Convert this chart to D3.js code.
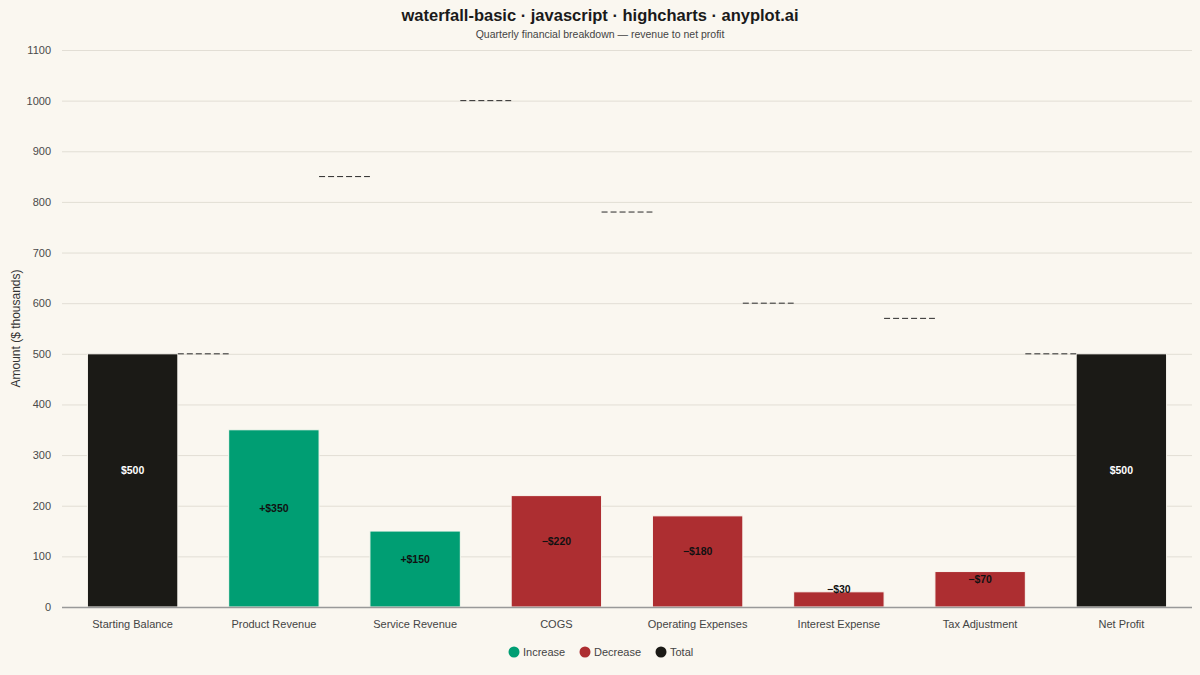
<!DOCTYPE html>
<html>
<head>
<meta charset="utf-8">
<script src="https://cdn.jsdelivr.net/npm/d3@7"></script>
<style>
  body { margin: 0; background: #faf7f0; }
  svg { font-family: "Liberation Sans", Arial, sans-serif; }
</style>
</head>
<body>
<svg id="chart" width="1200" height="675"></svg>
<script>
// data
var categories = ["Starting Balance", "Product Revenue", "Service Revenue", "COGS",
  "Operating Expenses", "Interest Expense", "Tax Adjustment", "Net Profit"]
var amounts = [500, 350, 150, -220, -180, -30, -70, 500]
var kinds = ["total", "increase", "increase", "decrease", "decrease", "decrease", "decrease", "total"]
var yTicks = [0, 100, 200, 300, 400, 500, 600, 700, 800, 900, 1000, 1100]
var legendNames = ["Increase", "Decrease", "Total"]

var colors = { increase: "#009e73", decrease: "#ad2e31", total: "#1b1a16" }

var svg = d3.select("#chart")
var W = 1200, H = 675
// plot area (window.top is reserved, so prefix)
var plotLeft = 62, plotRight = 1192, plotTop = 50, plotBottom = 607

svg.append("rect").attr("width", W).attr("height", H).attr("fill", "#faf7f0")

// running total for connectors
var running = []
var acc = 0
amounts.forEach(function(v, i) {
  if (kinds[i] == "total") acc = v
  else acc += v
  running.push(acc)
})

var x = d3.scaleBand().domain(categories).range([plotLeft, plotRight]).paddingInner(0.36).paddingOuter(0.18)
var y = d3.scaleLinear().domain([0, 1100]).range([plotBottom, plotTop])

// grid
svg.append("g").selectAll("line").data(yTicks).enter().append("line")
  .attr("x1", plotLeft).attr("x2", plotRight)
  .attr("y1", function(d) { return y(d) + 0.5 }).attr("y2", function(d) { return y(d) + 0.5 })
  .attr("stroke", "#e2ded5").attr("stroke-width", 1)

// y axis labels
var yAxis = d3.axisLeft(y).tickValues(yTicks).tickSize(0).tickPadding(11).tickFormat(d3.format("d"))
var gy = svg.append("g").attr("transform", "translate(" + plotLeft + ",0)").call(yAxis)
gy.select(".domain").remove()
gy.selectAll("text").attr("fill", "#4a4a4a").style("font-size", "11px")

svg.append("text")
  .attr("transform", "translate(20," + ((plotTop + plotBottom) / 2) + ") rotate(-90)")
  .attr("text-anchor", "middle").attr("fill", "#333").style("font-size", "12px")
  .text("Amount ($ thousands)")

// bars
svg.append("g").selectAll("rect").data(amounts).enter().append("rect")
  .attr("x", function(d, i) { return x(categories[i]) })
  .attr("width", x.bandwidth())
  .attr("y", function(d) { return y(Math.abs(d)) })
  .attr("height", function(d) { return y(0) - y(Math.abs(d)) })
  .attr("fill", function(d, i) { return colors[kinds[i]] })
  .attr("stroke", "#faf7f0").attr("stroke-width", 1)

// connectors
svg.append("g").selectAll("line").data(running.slice(0, -1)).enter().append("line")
  .attr("x1", function(d, i) { return x(categories[i]) + x.bandwidth() })
  .attr("x2", function(d, i) { return x(categories[i + 1]) })
  .attr("y1", function(d) { return y(d) }).attr("y2", function(d) { return y(d) })
  .attr("stroke", "#2a2a2a").attr("stroke-width", 1).attr("stroke-dasharray", "6,3")

// baseline
svg.append("line").attr("x1", plotLeft).attr("x2", plotRight)
  .attr("y1", plotBottom + 0.5).attr("y2", plotBottom + 0.5)
  .attr("stroke", "#999").attr("stroke-width", 1.5)

// value labels
svg.append("g").selectAll("text").data(amounts).enter().append("text")
  .attr("x", function(d, i) { return x(categories[i]) + x.bandwidth() / 2 })
  .attr("y", function(d) { return (y(Math.abs(d)) + y(0)) / 2 - 6 })
  .attr("text-anchor", "middle")
  .attr("fill", function(d, i) { return kinds[i] == "total" ? "#ffffff" : "#111" })
  .style("font-size", "10.5px").style("font-weight", "bold")
  .text(function(d, i) {
    if (kinds[i] == "total") return "$" + d
    return (d > 0 ? "+$" : "\u2212$") + Math.abs(d)
  })

// x labels
var xAxis = d3.axisBottom(x).tickSize(0).tickPadding(13)
var gx = svg.append("g").attr("transform", "translate(0," + plotBottom + ")").call(xAxis)
gx.select(".domain").remove()
gx.selectAll("text").attr("fill", "#444").style("font-size", "11px")

// title
svg.append("text").attr("x", W / 2).attr("y", 21).attr("text-anchor", "middle")
  .attr("fill", "#1a1a1a").style("font-size", "16.5px").style("font-weight", "bold")
  .text("waterfall-basic \u00b7 javascript \u00b7 highcharts \u00b7 anyplot.ai")
svg.append("text").attr("x", W / 2).attr("y", 38).attr("text-anchor", "middle")
  .attr("fill", "#444").style("font-size", "10.5px")
  .text("Quarterly financial breakdown \u2014 revenue to net profit")

// legend
var legendX = [514, 585, 661]
var legendKeys = ["increase", "decrease", "total"]
var lg = svg.append("g")
legendNames.forEach(function(n, i) {
  lg.append("circle").attr("cx", legendX[i]).attr("cy", 652).attr("r", 5.5)
    .attr("fill", colors[legendKeys[i]])
  lg.append("text").attr("x", legendX[i] + 9).attr("y", 656)
    .attr("fill", "#444").style("font-size", "11px").text(n)
})
</script>
</body>
</html>
